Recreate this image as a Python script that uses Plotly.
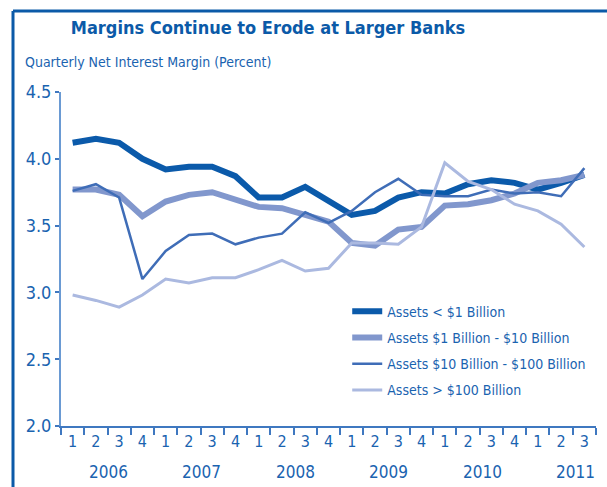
import plotly.graph_objects as go

years = ["2006", "2007", "2008", "2009", "2010", "2011"]
quarter_labels = ["1", "2", "3", "4"] * 5 + ["1", "2", "3"]
categories = [f"{2006 + i // 4} Q{i % 4 + 1}" for i in range(23)]

series_names = [
    "Assets < $1 Billion",
    "Assets $1 Billion - $10 Billion",
    "Assets $10 Billion - $100 Billion",
    "Assets > $100 Billion",
]
small = [4.12, 4.15, 4.12, 4.00, 3.92, 3.94, 3.94, 3.87, 3.71, 3.71, 3.79, 3.68,
         3.58, 3.61, 3.71, 3.75, 3.74, 3.81, 3.84, 3.82, 3.77, 3.82, 3.88]
mid = [3.77, 3.77, 3.73, 3.57, 3.68, 3.73, 3.75, 3.69, 3.64, 3.63, 3.58, 3.53,
       3.37, 3.35, 3.47, 3.49, 3.65, 3.66, 3.69, 3.74, 3.82, 3.84, 3.88]
large = [3.76, 3.81, 3.71, 3.10, 3.31, 3.43, 3.44, 3.36, 3.41, 3.44, 3.60, 3.52,
         3.61, 3.75, 3.85, 3.73, 3.72, 3.72, 3.77, 3.74, 3.75, 3.72, 3.93]
largest = [2.98, 2.94, 2.89, 2.98, 3.10, 3.07, 3.11, 3.11, 3.17, 3.24, 3.16, 3.18,
           3.37, 3.37, 3.36, 3.49, 3.97, 3.83, 3.77, 3.66, 3.61, 3.51, 3.34]
values = [small, mid, large, largest]

colors = ["#0b5aaa", "#8197cd", "#3f6db7", "#abb9e0"]
widths = [6, 6, 2.5, 3]
year_pos = [1.54, 5.56, 9.6, 13.6, 17.6, 21.62]

FONT = "DejaVu Sans Condensed, Arial, sans-serif"
TXT = "#1a63b0"

fig = go.Figure()
for name, vals, c, w in zip(series_names, values, colors, widths):
    fig.add_trace(go.Scatter(
        x=categories, y=vals, mode="lines", name=name, legendgroup=name,
        line=dict(color=c, width=w, shape="linear"),
    ))

fig.update_layout(
    width=607, height=487,
    margin=dict(l=61, r=11, t=92, b=61),
    paper_bgcolor="white", plot_bgcolor="white",
    font=dict(family=FONT, color=TXT, size=16),
    title=dict(
        text="<b>Margins Continue to Erode at Larger Banks</b>",
        x=268 / 607, xanchor="center", y=1 - 28 / 487, yanchor="middle",
        font=dict(family=FONT, size=18, color="#0b5aa8"),
    ),
    showlegend=True,
    legend=dict(
        x=0.535, xanchor="left", y=0.39, yanchor="top",
        font=dict(family=FONT, size=14, color=TXT),
        bgcolor="rgba(0,0,0,0)", tracegroupgap=5,
    ),
    xaxis=dict(
        type="category", categoryorder="array", categoryarray=categories,
        tickmode="array", tickvals=categories, ticktext=quarter_labels,
        tickson="boundaries", ticks="outside", ticklen=7, tickwidth=2,
        tickcolor="#3f78c0", showline=True, linecolor="#3f78c0", linewidth=2,
        showgrid=False, zeroline=False, range=[-0.5, 22.5],
        tickfont=dict(family=FONT, size=16, color=TXT),
    ),
    yaxis=dict(
        range=[2.0, 4.5], tickvals=[2.0, 2.5, 3.0, 3.5, 4.0, 4.5],
        ticktext=["2.0", "2.5", "3.0", "3.5", "4.0", "4.5"],
        ticks="outside", ticklen=4, tickwidth=2, tickcolor="#3f78c0",
        showline=True, linecolor="#6a9ad3", linewidth=2,
        showgrid=False, zeroline=False,
        tickfont=dict(family=FONT, size=18, color=TXT),
    ),
)

for yr, pos in zip(years, year_pos):
    fig.add_annotation(
        x=pos, xref="x", y=(426 - 472) / 334, yref="paper",
        text=yr, showarrow=False, xanchor="center", yanchor="middle",
        font=dict(family=FONT, size=17, color=TXT),
    )

fig.add_annotation(
    x=(23 - 61) / 535, xref="paper", y=(426 - 62) / 334, yref="paper",
    text="Quarterly Net Interest Margin (Percent)", showarrow=False,
    xanchor="left", yanchor="middle",
    font=dict(family=FONT, size=14, color=TXT),
)

# frame lines (top and left)
fig.add_shape(type="line", xref="paper", yref="paper",
              x0=(13 - 61) / 535, x1=(610 - 61) / 535,
              y0=(426 - 11) / 334, y1=(426 - 11) / 334,
              line=dict(color="#0b5aa8", width=3))
fig.add_shape(type="line", xref="paper", yref="paper",
              x0=(13 - 61) / 535, x1=(13 - 61) / 535,
              y0=(426 - 11) / 334, y1=(426 - 490) / 334,
              line=dict(color="#0b5aa8", width=3))

fig.write_html("out.html", config={"displayModeBar": False},
               post_script="document.body.style.margin='0';")
